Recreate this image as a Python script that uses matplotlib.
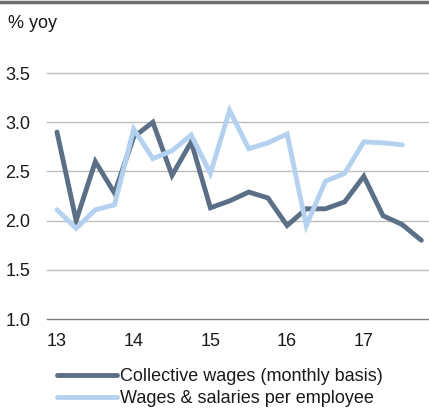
import numpy as np
import matplotlib.pyplot as plt
from matplotlib.lines import Line2D

plt.rcParams['font.family'] = ['Liberation Sans', 'DejaVu Sans']

# quarterly observations, 2013Q1 onwards
collective_wages = [2.90, 2.00, 2.60, 2.28, 2.85, 3.00, 2.46, 2.80,
                    2.13, 2.20, 2.29, 2.23, 1.95, 2.12, 2.12, 2.19,
                    2.45, 2.05, 1.96, 1.80]
wages_per_employee = [2.11, 1.92, 2.11, 2.16, 2.93, 2.63, 2.71, 2.87,
                      2.48, 3.12, 2.73, 2.79, 2.88, 1.95, 2.40, 2.48,
                      2.80, 2.79, 2.77]
year_labels = ['13', '14', '15', '16', '17']
y_ticks = [1.0, 1.5, 2.0, 2.5, 3.0, 3.5]

dark = '#5b7087'
light = '#b4d2ef'
fs = 13

fig = plt.figure(figsize=(4.29, 4.09), dpi=100)
ax = fig.add_axes([47 / 429, 90 / 409, 1 - 47 / 429, (319 - 73) / 409])

ax.plot(np.arange(len(collective_wages)), collective_wages, color=dark, lw=3.5,
        solid_capstyle='round', solid_joinstyle='miter', label='Collective wages (monthly basis)', zorder=3)
ax.plot(np.arange(len(wages_per_employee)), wages_per_employee, color=light, lw=3.5,
        solid_capstyle='round', solid_joinstyle='miter', label='Wages & salaries per employee', zorder=3)

ax.set_xlim(-0.52, 19.4)
ax.set_ylim(1.0, 3.5)
ax.set_yticks(y_ticks)
ax.set_yticklabels([f'{v:.1f}' for v in y_ticks])
ax.set_xticks(np.arange(0, 4 * len(year_labels), 4))
ax.set_xticklabels(year_labels)

for v in y_ticks[1:]:
    ax.axhline(v, color='#bdbdbd', lw=1.0, zorder=1, clip_on=False)
ax.axhline(1.0, color='#7f7f7f', lw=1.0, zorder=1, clip_on=False)

for s in ax.spines.values():
    s.set_visible(False)
ax.tick_params(length=0, labelsize=fs, colors='#1a1a1a')
ax.tick_params(axis='y', pad=12)
ax.tick_params(axis='x', pad=10)

fig.text(8 / 429, 1 - 23 / 409, '% yoy', fontsize=fs, color='#1a1a1a', va='center', ha='left')

# band across the top of the figure
fig.add_artist(Line2D([0, 1], [1 - 2 / 409, 1 - 2 / 409], color='#6e6e6e', lw=2.5,
                      transform=fig.transFigure))

fig.legend(loc='upper left', bbox_to_anchor=(57 / 429, 1 - 368 / 409), frameon=False,
           fontsize=fs, handlelength=3.3, handletextpad=0.2, labelspacing=0.3,
           borderpad=0, borderaxespad=0, labelcolor='#1a1a1a')

fig.savefig('out.png', dpi=100)
